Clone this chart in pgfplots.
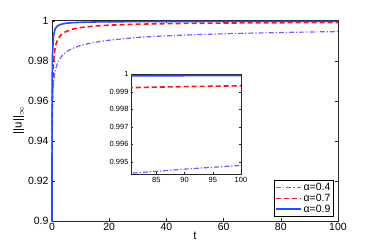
\documentclass[border=0pt]{standalone}
\usepackage{fontspec}
\setmainfont{Liberation Sans}
\usepackage{pgfplots}
\pgfplotsset{compat=1.18}
\definecolor{cpurple}{RGB}{130,85,255}
\definecolor{cred}{RGB}{255,20,20}
\definecolor{cblue}{RGB}{35,75,255}
\begin{document}
\begin{tikzpicture}
\pgfplotsset{
  every axis/.append style={
    /pgf/number format/assume math mode=true,
    tick align=inside,
    axis line style={black!85, line width=0.6pt},
    tick style={black!85, line width=0.5pt},
  }
}
\begin{axis}[name=main, at={(0,0)}, anchor=south west,
  scale only axis, width=286pt, height=201pt,
  xmin=0, xmax=100, ymin=0.9, ymax=1.0006,
  clip=false,
  xtick={0,20,40,60,80,100},
  ytick={0.9,0.92,0.94,0.96,0.98,1},
  yticklabels={0.9,0.92,0.94,0.96,0.98,1},
  major tick length=3pt,
  ticklabel style={font=\fontsize{10.5}{11}\selectfont},
  xticklabel style={yshift=1pt},
  xlabel={t}, ylabel={||u||$_{\infty}$},
  label style={font=\fontsize{11.5}{12}\selectfont},
  xlabel style={yshift=6pt},
  ylabel style={yshift=-3pt},
  legend style={at={(0.985,0.02)}, anchor=south east, line width=0.6pt,
    font=\fontsize{10.5}{11}\selectfont, inner sep=1pt, row sep=-2pt, fill=white},
  legend cell align=left,
  legend image code/.code={\draw[#1] (0pt,0pt) -- (25pt,0pt);},
]
\addplot[cpurple, line width=1.2pt, dash pattern=on 5pt off 2pt on 1.2pt off 2pt, forget plot] coordinates {
(0,0.9) (0.01,0.9314) (0.05,0.9466) (0.1,0.9535) (0.2,0.9603) (0.5,0.9687) (1,0.9743) (1.5,0.9773) (2,0.9792) (3,0.9818) (4,0.9834) (5,0.9846) (7,0.9863) (10,0.9879) (15,0.9895) (20,0.9905) (30,0.9919) (40,0.9927) (50,0.99325) (60,0.99370) (70,0.99405) (80,0.99434) (90,0.99459) (100,0.99480)};
\addplot[cred, line width=1.6pt, dash pattern=on 5pt off 3pt, forget plot] coordinates {
(0,0.9) (0.01,0.9195) (0.05,0.9428) (0.1,0.9548) (0.2,0.9663) (0.5,0.9789) (1,0.9859) (1.5,0.9890) (2,0.9908) (3,0.9929) (4,0.9941) (5,0.9949) (7,0.9960) (10,0.9968) (15,0.99759) (20,0.99802) (30,0.99850) (40,0.99877) (50,0.99895) (60,0.999072) (70,0.999167) (80,0.999240) (90,0.999300) (100,0.999349)};
\addplot[cblue, line width=1.6pt, forget plot] coordinates {
(0,0.9) (0.01,0.9264) (0.05,0.9604) (0.1,0.9740) (0.2,0.98415) (0.5,0.99237) (1,0.99576) (1.5,0.99702) (2,0.99769) (3,0.99838) (4,0.998745) (5,0.998971) (7,0.999238) (10,0.999446) (15,0.999615) (20,0.999702) (30,0.999793) (40,0.99984) (50,0.999869) (60,0.999889) (70,0.999903) (80,0.999914) (90,0.999923) (100,0.99993)};
\addlegendimage{draw=cpurple, line width=1.3pt, dash pattern=on 5pt off 2pt on 1.5pt off 2pt}
\addlegendentry{α=0.4}
\addlegendimage{draw=cred, line width=1.6pt, dash pattern=on 5pt off 3pt}
\addlegendentry{α=0.7}
\addlegendimage{draw=cblue, line width=1.6pt}
\addlegendentry{α=0.9}
\end{axis}
\begin{axis}[at={(79pt,47pt)}, anchor=south west,
  scale only axis, width=110pt, height=100pt,
  xmin=80.5, xmax=100, ymin=0.99431, ymax=1.00002,
  xtick={85,90,95,100},
  ytick={0.995,0.996,0.997,0.998,0.999,1},
  yticklabels={0.995,0.996,0.997,0.998,0.999,1},
  major tick length=2pt,
  axis background/.style={fill=white},
  ticklabel style={font=\fontsize{7.5}{8}\selectfont},
  yticklabel style={xshift=1pt},
]
\addplot[cpurple, line width=1.2pt, dash pattern=on 5pt off 2pt on 1.2pt off 2pt] coordinates {
(70,0.99405) (80,0.99434) (90,0.99459) (100,0.99480)};
\addplot[cred, line width=1.6pt, dash pattern=on 5pt off 3pt] coordinates {
(70,0.999167) (80,0.999240) (90,0.999300) (100,0.999349)};
\addplot[cblue, line width=1.6pt] coordinates {
(70,0.999903) (80,0.999914) (90,0.999923) (100,0.99993)};
\end{axis}
\pgfresetboundingbox
\path[use as bounding box] (-52pt,-28pt) rectangle (322pt,221pt);
\end{tikzpicture}
\end{document}
